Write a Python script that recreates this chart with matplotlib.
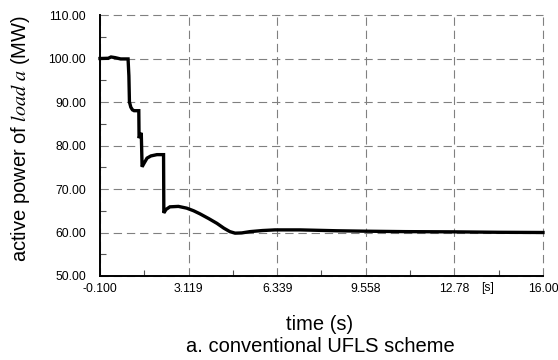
import matplotlib
matplotlib.use("Agg")
import matplotlib.pyplot as plt
import matplotlib.transforms as mtransforms

# ---- data ----
time_s = [-0.1, 0.2, 0.3, 0.45, 0.65, 0.92, 0.95, 0.97, 1.02, 1.08, 1.14, 1.31, 1.32,
          1.37, 1.40, 1.43, 1.50, 1.61, 1.75, 1.97, 2.21, 2.22, 2.30, 2.44, 2.75,
          3.05, 3.30, 3.53, 3.85, 4.15, 4.40, 4.62, 4.81, 5.05, 5.35, 5.80, 6.26,
          7.17, 8.50, 9.56, 11.0, 12.78, 14.4, 16.0]
power_mw = [100.0, 100.05, 100.35, 100.2, 99.9, 99.9, 96.0, 90.0, 88.8, 88.2, 88.0, 88.0, 81.7,
            82.6, 82.9, 75.1, 75.9, 77.1, 77.6, 77.9, 77.9, 64.5, 65.3, 65.9, 66.0,
            65.6, 65.0, 64.3, 63.2, 62.1, 61.0, 60.2, 59.85, 59.9, 60.2, 60.45, 60.6,
            60.6, 60.4, 60.3, 60.2, 60.15, 60.05, 60.0]

xticks = [-0.1, 3.119, 6.339, 9.558, 12.78, 16.0]
xtick_labels = ["-0.100", "3.119", "6.339", "9.558", "12.78", "16.00"]
xminor = [1.5095, 4.729, 7.9485, 11.169, 14.39]
yticks = [50, 60, 70, 80, 90, 100, 110]
ytick_labels = ["50.00", "60.00", "70.00", "80.00", "90.00", "100.00", "110.00"]
yminor = [55, 65, 75, 85, 95, 105]

plt.rcParams['font.family'] = ['Liberation Sans', 'DejaVu Sans']
plt.rcParams['mathtext.fontset'] = 'stix'
plt.rcParams['lines.scale_dashes'] = False

W, H = 558, 360
fig = plt.figure(figsize=(W / 100, H / 100), dpi=100)
ax = fig.add_axes([100 / W, 1 - 276 / H, 443 / W, 261 / H])

ax.plot(time_s, power_mw, color='black', lw=2.4, solid_joinstyle='miter', zorder=3, clip_on=False)

ax.set_xlim(-0.1, 16.0)
ax.set_ylim(50, 110)
ax.set_xticks(xticks)
ax.set_xticklabels(xtick_labels)
ax.set_yticks(yticks)
ax.set_yticklabels(ytick_labels)
ax.set_xticks(xminor, minor=True)
ax.set_yticks(yminor, minor=True)

ax.tick_params(which='major', length=0, labelsize=8.8, colors='black')
ax.tick_params(axis='x', which='major', pad=5)
ax.tick_params(axis='y', which='major', pad=10)
ax.tick_params(which='minor', direction='in', length=4, width=0.8, color='#555555')

ax.grid(True, which='major', color='#808080', linestyle=(0, (6, 3.5)), linewidth=0.8, clip_on=False)
ax.set_axisbelow(True)

for s in ['top', 'right']:
    ax.spines[s].set_visible(False)
for s in ['left', 'bottom']:
    ax.spines[s].set_linewidth(1.4)
    ax.spines[s].set_color('black')

# "[s]" unit label among the tick labels
trans = mtransforms.blended_transform_factory(ax.transData, fig.transFigure)
ax.text(14.0, 1 - 288 / H, "[s]", transform=trans, ha='center', va='center', fontsize=8.8)

fig.text(21 / W, 1 - 138 / H, r"active power of $\mathit{load\ a}$ (MW)", rotation=90,
         ha='center', va='center', fontsize=14.5)
fig.text(320 / W, 1 - 325 / H, "time (s)", ha='center', va='center', fontsize=14.5)
fig.text(320 / W, 1 - 346 / H, "a. conventional UFLS scheme", ha='center', va='center', fontsize=14.5)

fig.savefig("out.png", dpi=100)
